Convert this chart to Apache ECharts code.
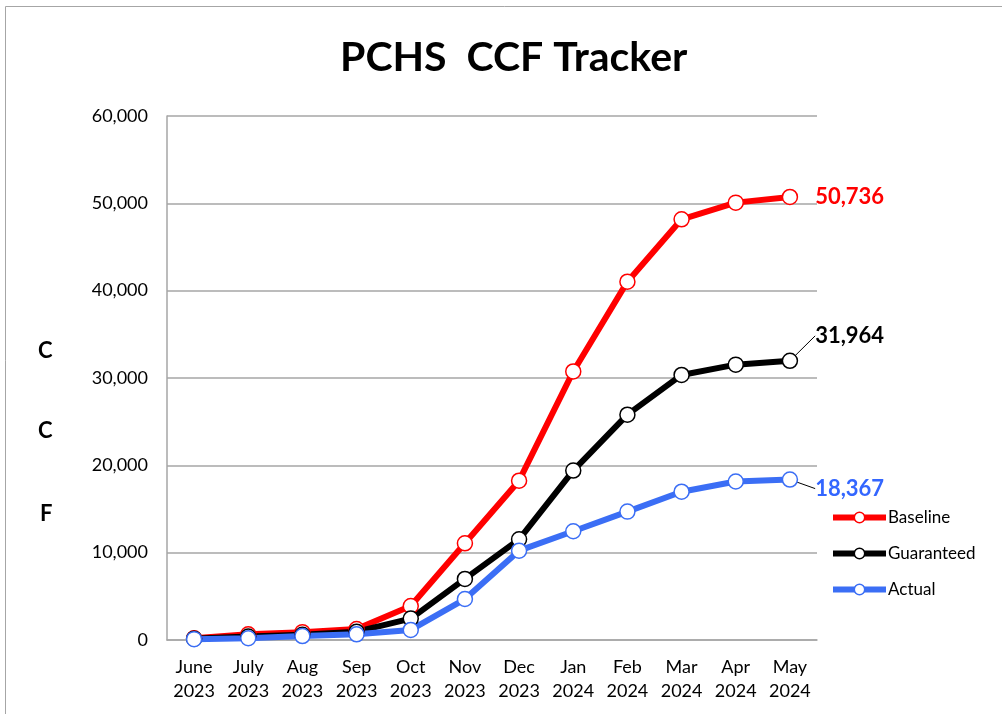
<!DOCTYPE html>
<html>
<head>
<meta charset="utf-8">
<title>PCHS CCF Tracker</title>
<script src="https://cdn.jsdelivr.net/npm/echarts@6/dist/echarts.min.js"></script>
<style>
    html, body { margin: 0; padding: 0; background: #fff; }
    #main { width: 1002px; height: 714px; }
</style>
</head>
<body>
<div id="main"></div>
<script>
var months = ['June', 'July', 'Aug', 'Sep', 'Oct', 'Nov', 'Dec', 'Jan', 'Feb', 'Mar', 'Apr', 'May'];
var years = ['2023', '2023', '2023', '2023', '2023', '2023', '2023', '2024', '2024', '2024', '2024', '2024'];

var baseline = [200, 650, 900, 1250, 3890, 11070, 18240, 30750, 41030, 48170, 50080, 50736];
var guaranteed = [150, 400, 600, 950, 2450, 6990, 11530, 19400, 25800, 30350, 31530, 31964];
var actual = [100, 200, 450, 650, 1150, 4690, 10230, 12450, 14700, 16980, 18150, 18367];

var yTicks = [0, 10000, 20000, 30000, 40000, 50000, 60000];

var FONT = 'Lato, "Open Sans", sans-serif';

function fmt(v) {
    return Number(v).toLocaleString('en-US');
}

// only the last point gets a value label
function withEndLabel(arr, label) {
    return arr.map(function (v, i) {
        if (i === arr.length - 1) return { value: v, label: label };
        return v;
    });
}

function makeSeries(name, arr, color, labelColor, layout) {
    return {
        name: name,
        type: 'line',
        data: withEndLabel(arr, {
            show: true,
            position: 'right',
            distance: 17,
            formatter: function (p) { return fmt(p.value); },
            color: labelColor,
            fontFamily: FONT,
            fontWeight: 'bold',
            fontSize: 22
        }),
        symbol: 'circle',
        symbolSize: 15,
        showAllSymbol: true,
        lineStyle: { color: color, width: 6 },
        itemStyle: { color: '#fff', borderColor: color, borderWidth: 1.5 },
        labelLayout: layout,
        labelLine: { show: !!layout, lineStyle: { color: '#000', width: 1 } },
        emphasis: { disabled: true },
        animation: false
    };
}

var myChart = echarts.init(document.getElementById('main'));
var option = {
    backgroundColor: '#fff',
    title: {
        text: 'PCHS  CCF Tracker',
        left: 335,
        top: 32,
        textStyle: { fontFamily: FONT, fontWeight: 'bold', fontSize: 41, color: '#000' }
    },
    legend: {
        orient: 'vertical',
        left: 825,
        top: 504,
        itemWidth: 53,
        itemHeight: 13,
        itemGap: 19,
        lineStyle: { width: 6 },
        itemStyle: { borderWidth: 1.5 },
        textStyle: { fontFamily: FONT, fontSize: 17, color: '#000', padding: [0, 0, 0, -3] },
        data: ['Baseline', 'Guaranteed', 'Actual']
    },
    grid: { left: 167, right: 185, top: 116, bottom: 74 },
    xAxis: {
        type: 'category',
        boundaryGap: true,
        data: months.map(function (m, i) { return m + '\n' + years[i]; }),
        axisLine: { lineStyle: { color: '#A6A6A6', width: 1.5 } },
        axisTick: { show: false },
        axisLabel: {
            interval: 0,
            margin: 15,
            lineHeight: 24,
            fontFamily: FONT,
            fontSize: 18,
            color: '#000'
        }
    },
    yAxis: {
        type: 'value',
        min: yTicks[0],
        max: yTicks[yTicks.length - 1],
        interval: 10000,
        axisLine: { show: true, lineStyle: { color: '#A6A6A6', width: 1.5 } },
        axisTick: { show: false },
        splitLine: { lineStyle: { color: '#A6A6A6', width: 1.5 } },
        axisLabel: {
            margin: 19,
            fontFamily: FONT,
            fontSize: 18,
            color: '#000',
            formatter: function (v) { return fmt(v); }
        }
    },
    graphic: [
        { type: 'rect', shape: { x: 5.5, y: 6.5, width: 1200, height: 900 }, style: { fill: 'none', stroke: '#A6A6A6', lineWidth: 1 }, silent: true },
        { type: 'text', left: 38, top: 340, style: { text: 'C', fontFamily: FONT, fontWeight: 'bold', fontSize: 22, fill: '#000' } },
        { type: 'text', left: 38, top: 420, style: { text: 'C', fontFamily: FONT, fontWeight: 'bold', fontSize: 22, fill: '#000' } },
        { type: 'text', left: 40, top: 503, style: { text: 'F', fontFamily: FONT, fontWeight: 'bold', fontSize: 22, fill: '#000' } }
    ],
    series: [
        makeSeries('Baseline', baseline, '#FF0000', '#FF0000', null),
        makeSeries('Guaranteed', guaranteed, '#000000', '#000000', { dy: -25 }),
        makeSeries('Actual', actual, '#3B6EF5', '#3366FF', { dy: 9 })
    ]
};
myChart.setOption(option);
</script>
</body>
</html>
